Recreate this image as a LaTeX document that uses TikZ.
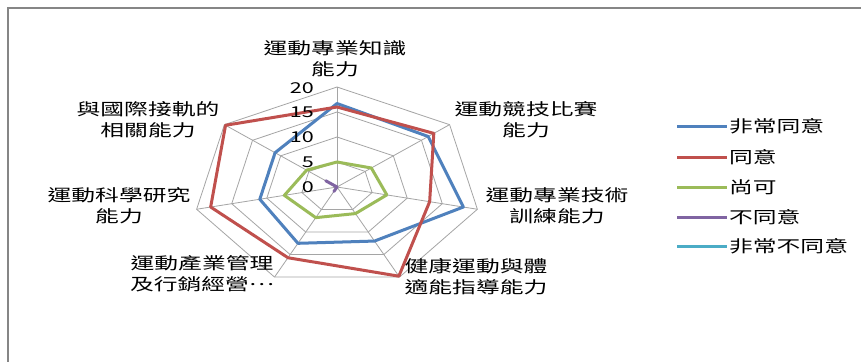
\documentclass[tikz,border=0pt]{standalone}
\usepackage{fontspec}
\usepackage{graphicx}
\newfontfamily\cjk{Noto Sans CJK TC}
\definecolor{sBlue}{RGB}{79,129,189}
\definecolor{sRed}{RGB}{192,80,77}
\definecolor{sGreen}{RGB}{155,187,89}
\definecolor{sPurple}{RGB}{128,100,162}
\definecolor{sCyan}{RGB}{75,172,198}
\definecolor{gridgray}{RGB}{165,165,165}
\definecolor{framegray}{RGB}{134,134,134}
\newcommand{\sx}[1]{\scalebox{1.44}[1]{#1}}
\newcommand{\twolines}[2]{\sx{\begin{tabular}{@{}c@{}}#1\\#2\end{tabular}}}
\begin{document}
\begin{tikzpicture}[x=1pt,y=-1pt,
  lbl/.style={inner sep=0pt,font=\cjk\fontsize{16.5}{21}\selectfont},
  tick/.style={inner sep=0pt,anchor=east,font=\cjk\fontsize{15}{18}\selectfont},
  legtxt/.style={inner sep=0pt,anchor=west,font=\cjk\fontsize{16.5}{20}\selectfont},
  gridline/.style={draw=gridgray,line width=0.8pt},
  ser/.style={line width=3pt,line join=round},
  legline/.style={line width=3pt}]
\useasboundingbox (0,0) rectangle (861,361);
\fill[white] (0,0) rectangle (861,361);
\draw[framegray,line width=1.6pt] (8,8) rectangle (900,400);

\begin{scope}[shift={(337,187)},x={(7.2pt,0pt)},y={(0pt,5pt)}]
  \def\aA{90}\def\aB{38.5714}\def\aC{-12.8571}\def\aD{-64.2857}
  \def\aE{-115.7143}\def\aF{-167.1429}\def\aG{141.4286}
  \foreach \r in {5,10,15,20}
    \draw[gridline] (\aA:\r) -- (\aB:\r) -- (\aC:\r) -- (\aD:\r) -- (\aE:\r) -- (\aF:\r) -- (\aG:\r) -- cycle;
  \foreach \a in {\aA,\aB,\aC,\aD,\aE,\aF,\aG}
    \draw[gridline] (0,0) -- (\a:20);
  % series
  \draw[ser,sBlue] (\aA:16.7) -- (\aB:16.2) -- (\aC:18) -- (\aD:12) -- (\aE:12.5) -- (\aF:11) -- (\aG:11) -- cycle;
  \draw[ser,sRed] (\aA:16) -- (\aB:17.2) -- (\aC:13.2) -- (\aD:19.8) -- (\aE:15.7) -- (\aF:18) -- (\aG:19.8) -- cycle;
  \draw[ser,sGreen] (\aA:5) -- (\aB:6.1) -- (\aC:7.1) -- (\aD:5.9) -- (\aE:6.8) -- (\aF:7.5) -- (\aG:5.4) -- cycle;
  \draw[ser,sPurple] (\aA:0) -- (\aB:0) -- (\aC:0) -- (\aD:0) -- (\aE:1) -- (\aF:0) -- (\aG:2) -- cycle;
\end{scope}

% tick labels
\node[tick] (t0) at (314,187) {\sx{0}};
\node[tick] (t5) at (314,162) {\sx{5}};
\node[tick] (t10) at (314,137) {\sx{10}};
\node[tick] (t15) at (314,112) {\sx{15}};
\node[tick] (t20) at (314,88) {\sx{20}};

% axis labels
\node[lbl] (l1) at (335,61) {\twolines{運動專業知識}{能力}};
\node[lbl] (l2) at (526,122) {\twolines{運動競技比賽}{能力}};
\node[lbl] (l3) at (557,208) {\twolines{運動專業技術}{訓練能力}};
\node[lbl] (l4) at (476,279) {\twolines{健康運動與體}{適能指導能力}};
\node[lbl] (l5) at (202,276) {\twolines{運動產業管理}{及行銷經營\raisebox{0.32em}{…}}};
\node[lbl] (l6) at (119,208) {\twolines{運動科學研究}{能力}};
\node[lbl] (l7) at (148,122) {\twolines{與國際接軌的}{相關能力}};

% legend
\coordinate (g1a) at (677,126); \coordinate (g1b) at (727,126);
\coordinate (g2a) at (677,157); \coordinate (g2b) at (727,157);
\coordinate (g3a) at (677,187); \coordinate (g3b) at (727,187);
\coordinate (g4a) at (677,217); \coordinate (g4b) at (727,217);
\coordinate (g5a) at (677,246); \coordinate (g5b) at (727,246);
\draw[legline,sBlue] (g1a) -- (g1b);
\draw[legline,sRed] (g2a) -- (g2b);
\draw[legline,sGreen] (g3a) -- (g3b);
\draw[legline,sPurple] (g4a) -- (g4b);
\draw[legline,sCyan] (g5a) -- (g5b);
\node[legtxt] (k1) at (729,126) {\sx{非常同意}};
\node[legtxt] (k2) at (729,157) {\sx{同意}};
\node[legtxt] (k3) at (729,187) {\sx{尚可}};
\node[legtxt] (k4) at (729,217) {\sx{不同意}};
\node[legtxt] (k5) at (729,246) {\sx{非常不同意}};
\end{tikzpicture}
\end{document}
